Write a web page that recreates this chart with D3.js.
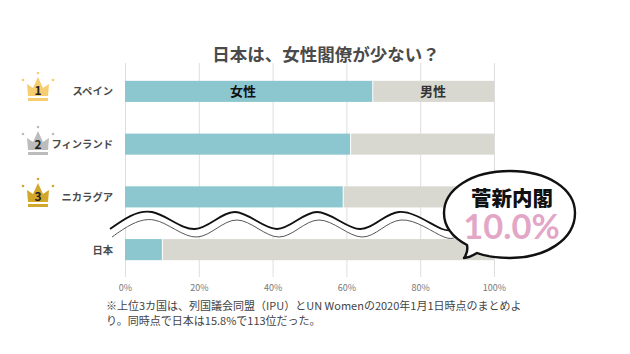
<!DOCTYPE html>
<html>
<head>
<meta charset="utf-8">
<script src="https://cdn.jsdelivr.net/npm/d3@7"></script>
<style>
html,body{margin:0;padding:0;background:#fff}
svg{display:block}
text{font-family:"Noto Sans CJK JP","Noto Sans",sans-serif}
</style>
</head>
<body>
<svg id="chart" width="630" height="354"></svg>
<script>
var countries = ["スペイン", "フィンランド", "ニカラグア", "日本"]
var women = [67, 61, 59, 10]
var men = [33, 39, 41, 90]
var ticks = [0, 20, 40, 60, 80, 100]
var ranks = [1, 2, 3]
var crownColors = ["#f6cd6f", "#bcbcbc", "#d3a62c"]
var crownTops = [73, 127, 179]
var notes = ["※上位3カ国は、列国議会同盟（IPU）とUN Womenの2020年1月1日時点のまとめよ", "り。同時点で日本は15.8%で113位だった。"]

var svg = d3.select("#chart")
var x = d3.scaleLinear().domain([0, 100]).range([125, 494])
var y = d3.scaleBand().domain(countries).range([65, 276]).paddingInner(0.6).paddingOuter(0.3)

svg.append("text")
    .attr("x", 326).attr("y", 61)
    .attr("text-anchor", "middle")
    .attr("font-size", 17.5).attr("font-weight", 700)
    .attr("fill", "#4a4a4a")
    .text("日本は、女性閣僚が少ない？")

// grid and tick labels
var xAxis = g => g
    .attr("transform", "translate(0,277)")
    .call(d3.axisBottom(x).tickValues(ticks).tickFormat(d => d + "%").tickSize(-214).tickSizeOuter(0))
    .call(g => g.select(".domain").remove())
    .call(g => g.selectAll(".tick line").attr("stroke", "#dedede"))
    .call(g => g.selectAll(".tick text").attr("y", 8).attr("fill", "#777").attr("font-size", 9).attr("font-family", '"Noto Sans CJK JP"'))
svg.append("g").call(xAxis)

// bars
svg.append("g").selectAll("rect")
    .data(countries)
    .join("rect")
    .attr("x", (d, i) => x(women[i]) + 1)
    .attr("y", d => y(d))
    .attr("width", (d, i) => x(men[i]) - x(0) - 1)
    .attr("height", y.bandwidth())
    .attr("fill", "#d9d8d0")
svg.append("g").selectAll("rect")
    .data(countries)
    .join("rect")
    .attr("x", x(0))
    .attr("y", d => y(d))
    .attr("width", (d, i) => x(women[i]) - x(0))
    .attr("height", y.bandwidth())
    .attr("fill", "#8cc6cf")

svg.append("g").selectAll("text")
    .data(countries)
    .join("text")
    .attr("x", 113)
    .attr("y", d => y(d) + y.bandwidth() / 2 + 4)
    .attr("text-anchor", "end")
    .attr("font-size", 10.3).attr("font-weight", 700)
    .attr("fill", "#4a4a4a")
    .text(d => d)

svg.append("text").attr("x", x(32)).attr("y", y(countries[0]) + 15.5)
    .attr("text-anchor", "middle").attr("font-size", 13).attr("font-weight", 700).attr("fill", "#111").text("女性")
svg.append("text").attr("x", x(83.5)).attr("y", y(countries[0]) + 15.5)
    .attr("text-anchor", "middle").attr("font-size", 13).attr("font-weight", 700).attr("fill", "#333").text("男性")

// crowns
var crown = svg.append("g").selectAll("g")
    .data(ranks)
    .join("g")
    .attr("transform", (d, i) => `translate(38,${crownTops[i]})`)
crown.append("path")
    .attr("d", "M-11,11 L-5,15 L0,4 L5,15 L11,11 L10,23 L-10,23 Z")
    .attr("fill", (d, i) => crownColors[i])
crown.append("rect")
    .attr("x", -10).attr("y", 25).attr("width", 20).attr("height", 3)
    .attr("fill", (d, i) => crownColors[i])
crown.selectAll("circle")
    .data([[0, 0], [-15, 7], [15, 7]])
    .join("circle")
    .attr("cx", d => d[0]).attr("cy", d => d[1]).attr("r", 1.3)
    .attr("fill", function() { return crownColors[d3.select(this.parentNode).datum() - 1] })
crown.append("text")
    .attr("x", 0).attr("y", 22)
    .attr("text-anchor", "middle")
    .attr("font-size", 12).attr("font-weight", 700)
    .attr("fill", "#222")
    .text(d => d)

// wavy break between the top 3 and Japan
var waveTop = [[110, 229], [152, 212], [195, 229], [235, 212], [277, 229], [317, 212], [360, 229], [399, 212], [442, 229], [460, 222]]
var waveBottom = waveTop.map(d => [d[0] + 2, d[1] + 8])
var wave = d3.line().curve(d3.curveNatural)
svg.append("path")
    .attr("d", "M" + wave(waveTop).slice(1) + "L" + wave(waveBottom.slice().reverse()).slice(1) + "Z")
    .attr("fill", "#fff")
svg.append("path").attr("d", wave(waveTop)).attr("fill", "none").attr("stroke", "#111").attr("stroke-width", 1.8)
svg.append("path").attr("d", wave(waveBottom)).attr("fill", "none").attr("stroke", "#444").attr("stroke-width", 0.9)

// speech bubble
svg.append("path")
    .attr("d", "M510,171 C548,171 575,189 575,213 C575,240 545,258 510,258 C497,258 487,257 477,253 C472,256 468,258 464,258 C467,254 468,250 467,245 C452,237 444,226 444,213 C444,189 472,171 510,171 Z")
    .attr("fill", "#fff").attr("stroke", "#111").attr("stroke-width", 2.4).attr("stroke-linejoin", "round")
svg.append("text").attr("x", 512).attr("y", 206)
    .attr("text-anchor", "middle").attr("font-size", 20.5).attr("font-weight", 900).attr("fill", "#111").text("菅新内閣")
svg.append("text").attr("x", 511.5).attr("y", 238.5)
    .attr("text-anchor", "middle").attr("font-size", 34.5).attr("font-weight", 700).attr("fill", "#e3a6c6")
    .style("font-family", "Lato").text("10.0%")

// note
svg.append("g").selectAll("text")
    .data(notes)
    .join("text")
    .attr("x", 106)
    .attr("y", (d, i) => 310 + i * 14.5)
    .attr("font-size", 11)
    .attr("fill", "#444")
    .text(d => d)
</script>
</body>
</html>
